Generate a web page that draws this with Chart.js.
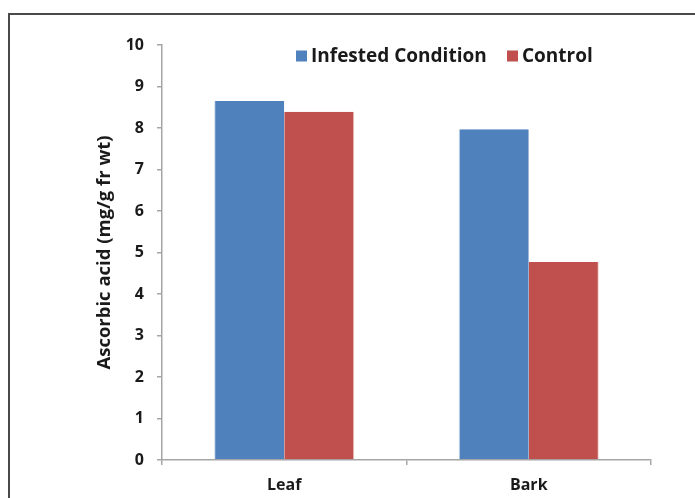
<!DOCTYPE html>
<html>
<head>
<meta charset="utf-8">
<script src="https://cdn.jsdelivr.net/npm/chart.js@4.4.1/dist/chart.umd.min.js"></script>
<style>
  html, body { margin: 0; padding: 0; background: #fff; }
  #wrap { width: 695px; height: 498px; position: relative; }
</style>
</head>
<body>
<div id="wrap"><canvas id="c" width="695" height="498"></canvas></div>
<script>
// Ascorbic acid content by plant part
const categories = ['Leaf', 'Bark'];
const seriesNames = ['Infested Condition', 'Control'];
const infested = [8.65, 7.97];
const control = [8.39, 4.77];
const yTicks = [0, 1, 2, 3, 4, 5, 6, 7, 8, 9, 10];

const FONT = '"Open Sans", Lato, sans-serif';
const BLUE = '#4F81BD';
const RED = '#C0504D';

// Outer frame around the figure
const framePlugin = {
  id: 'frame',
  beforeDraw(chart) {
    const ctx = chart.ctx;
    ctx.save();
    ctx.strokeStyle = '#4a4a4a';
    ctx.lineWidth = 2;
    ctx.beginPath();
    ctx.moveTo(9, chart.height + 2);
    ctx.lineTo(9, 14);
    ctx.lineTo(chart.width + 2, 14);
    ctx.stroke();
    ctx.restore();
  }
};

// Inline legend inside the plot area
const legendPlugin = {
  id: 'inlineLegend',
  afterDraw(chart) {
    const ctx = chart.ctx;
    const positions = [296, 507];
    ctx.save();
    ctx.font = 'bold 19px ' + FONT;
    ctx.textBaseline = 'middle';
    chart.data.datasets.forEach((ds, i) => {
      const x = positions[i];
      const y = 55.5;
      ctx.fillStyle = ds.backgroundColor;
      ctx.fillRect(x, y - 5, 11, 11);
      ctx.fillStyle = '#1a1a1a';
      ctx.fillText(ds.label, x + 15, y + 1);
    });
    ctx.restore();
  }
};

new Chart(document.getElementById('c'), {
  type: 'bar',
  data: {
    labels: categories,
    datasets: [
      { label: seriesNames[0], data: infested, backgroundColor: BLUE,
        borderColor: 'rgba(200,215,235,0.9)', borderWidth: { left: 1, right: 0, top: 0, bottom: 0 } },
      { label: seriesNames[1], data: control, backgroundColor: RED,
        borderColor: 'rgba(235,200,200,0.9)', borderWidth: { left: 0, right: 1, top: 0, bottom: 0 } }
    ]
  },
  options: {
    responsive: false,
    animation: false,
    events: [],
    layout: { padding: { left: 0, right: 44, top: 45, bottom: 0 } },
    plugins: {
      legend: { display: false },
      tooltip: { enabled: false }
    },
    datasets: {
      bar: { categoryPercentage: 0.573, barPercentage: 1.0 }
    },
    scales: {
      x: {
        afterFit(scale) { scale.height = 38; },
        grid: {
          display: true, drawOnChartArea: false, offset: true,
          drawTicks: true, tickLength: 5, color: '#a6a6a6', lineWidth: 1.5
        },
        border: { display: true, color: '#a6a6a6', width: 1.5 },
        ticks: {
          color: '#1a1a1a', padding: 11,
          font: { family: FONT, size: 16, weight: 'bold' }
        }
      },
      y: {
        min: 0, max: 10,
        afterFit(scale) { scale.width = 162; },
        afterBuildTicks(scale) { scale.ticks = yTicks.map(v => ({ value: v })); },
        grid: {
          display: true, drawOnChartArea: false,
          drawTicks: true, tickLength: 5, color: '#a6a6a6', lineWidth: 1.5
        },
        border: { display: true, color: '#a6a6a6', width: 1.5 },
        ticks: {
          color: '#1a1a1a', padding: 13,
          font: { family: FONT, size: 16, weight: 'bold' }
        },
        title: {
          display: true,
          text: 'Ascorbic acid (mg/g fr wt)',
          color: '#1a1a1a',
          padding: { top: 94, bottom: 0 },
          font: { family: FONT, size: 18.5, weight: 'bold' }
        }
      }
    }
  },
  plugins: [framePlugin, legendPlugin]
});
</script>
</body>
</html>
